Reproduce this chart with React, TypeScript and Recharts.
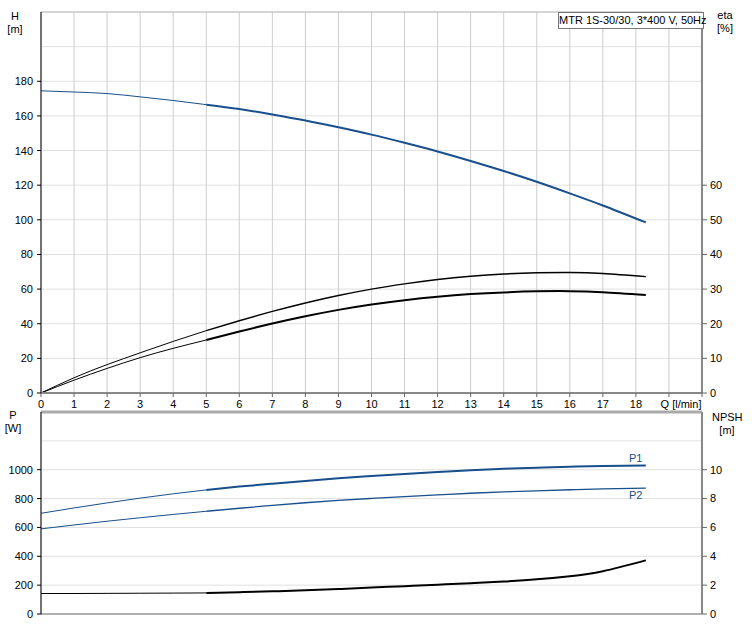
import React from "react";
import {
  LineChart,
  Line,
  XAxis,
  YAxis,
  CartesianGrid,
  ReferenceLine,
} from "recharts";

// flow points: thin part of the curves (0..5) and thick part (5..18.3)
const qThin = [0, 1, 2, 3, 4, 5];
const qThick = [5, 6, 7, 8, 9, 10, 11, 12, 13, 14, 15, 16, 17, 18.3];

const hThin = [174.5, 173.8, 172.9, 171.0, 168.9, 166.5];
const hThick = [166.5, 164.0, 160.8, 157.3, 153.4, 149.2, 144.5, 139.5, 134.0, 128.2, 122.0, 115.3, 108.3, 98.5];

const etaAThin = [0, 4.4, 8.2, 11.6, 14.9, 18.0];
const etaAThick = [18.0, 20.85, 23.55, 26.0, 28.15, 30.0, 31.5, 32.75, 33.7, 34.35, 34.7, 34.8, 34.5, 33.6];
const etaBThin = [0, 3.7, 7.1, 10.2, 12.9, 15.3];
const etaBThick = [15.3, 17.75, 20.05, 22.15, 24.0, 25.55, 26.8, 27.8, 28.55, 29.05, 29.35, 29.4, 29.1, 28.3];

const p1Thin = [698, 735, 770, 803, 833, 860];
const p1Thick = [860, 883, 903, 922, 940, 956, 971, 984, 996, 1006, 1014, 1021, 1026, 1030];
const p2Thin = [590, 617, 643, 667, 690, 712];
const p2Thick = [712, 733, 753, 771, 787, 801, 814, 826, 837, 846, 854, 861, 867, 873];

const npshThin = [1.42, 1.42, 1.43, 1.44, 1.45, 1.46];
const npshThick = [1.46, 1.51, 1.57, 1.64, 1.73, 1.83, 1.93, 2.03, 2.13, 2.25, 2.4, 2.62, 2.97, 3.72];

const qTicks = [0, 1, 2, 3, 4, 5, 6, 7, 8, 9, 10, 11, 12, 13, 14, 15, 16, 17, 18, 19, 20];
const hTicks = [0, 20, 40, 60, 80, 100, 120, 140, 160, 180, 200, 220];
const etaTicks = [0, 10, 20, 30, 40, 50, 60];
const pTicks = [0, 200, 400, 600, 800, 1000, 1200, 1400];
const npshTicks = [0, 2, 4, 6, 8, 10];

const BLUE = "#184f8c";
const FONT = "'Liberation Sans', Arial, sans-serif";

const toData = (qs: number[], vs: number[]) => qs.map((q, i) => ({ q, v: vs[i] }));

const leftTick = (maxLabel: number) => (props: any) => {
  const { x, y, payload } = props;
  if (payload.value > maxLabel) return <g />;
  return (
    <g>
      <line x1={x + 4} x2={x + 8} y1={y} y2={y} stroke="#000" />
      <text x={x} y={y} dy={4} textAnchor="end" fontSize={11} fill="#000" fontFamily={FONT}>
        {payload.value}
      </text>
    </g>
  );
};

const label = (text: string, left: number, top: number, w: number, color = "#000", align: any = "center") => (
  <div
    style={{
      position: "absolute",
      left,
      top,
      width: w,
      textAlign: align,
      fontSize: 11,
      lineHeight: "13px",
      fontFamily: FONT,
      color,
      whiteSpace: "nowrap",
    }}
  >
    {text}
  </div>
);

const line = (data: any[], yId: string, color: string, w: number, key: string) => (
  <Line
    key={key}
    data={data}
    dataKey="v"
    yAxisId={yId}
    type="natural"
    stroke={color}
    strokeWidth={w}
    dot={false}
    activeDot={false}
    isAnimationActive={false}
  />
);

export default function App() {
  return (
    <div style={{ position: "absolute", left: 0, top: 0, width: 752, height: 624, background: "#fff" }}>
      <div style={{ position: "absolute", left: 0, top: 0 }}>
        <LineChart width={752} height={412} margin={{ top: 12, right: 0, left: 0, bottom: 0 }}>
          <CartesianGrid yAxisId="h" horizontal={true} vertical={false} stroke="#e0e0e0" />
          <CartesianGrid yAxisId="h" horizontal={false} vertical={true} stroke="#cdcdcd" />
          <XAxis
            type="number"
            dataKey="q"
            domain={[0, 20]}
            ticks={qTicks}
            interval={0}
            height={19}
            tickSize={4}
            tickMargin={3}
            axisLine={{ stroke: "#888", strokeWidth: 2 }}
            tickLine={{ stroke: "#666" }}
            tick={{ fontSize: 11, fill: "#000", fontFamily: FONT }}
            tickFormatter={(v: number) => (v > 18 ? "" : String(v))}
          />
          <YAxis
            yAxisId="h"
            orientation="left"
            domain={[0, 220]}
            ticks={hTicks}
            interval={0}
            width={41}
            tickSize={4}
            tickMargin={4}
            axisLine={{ stroke: "#000" }}
            tickLine={false}
            tick={leftTick(180)}
          />
          <YAxis
            yAxisId="eta"
            orientation="right"
            domain={[0, 110]}
            ticks={etaTicks}
            interval={0}
            width={50}
            tickSize={5}
            tickMargin={3}
            axisLine={{ stroke: "#888", strokeWidth: 2 }}
            tickLine={{ stroke: "#666" }}
            tick={{ fontSize: 11, fill: "#000", fontFamily: FONT }}
          />
          <ReferenceLine yAxisId="h" y={220} stroke="#bbb" />
          {line(toData(qThin, hThin), "h", BLUE, 1, "h1")}
          {line(toData(qThick, hThick), "h", BLUE, 2, "h2")}
          {line(toData(qThin, etaAThin), "eta", "#000", 1, "ea1")}
          {line(toData(qThick, etaAThick), "eta", "#000", 1.4, "ea2")}
          {line(toData(qThin, etaBThin), "eta", "#000", 1, "eb1")}
          {line(toData(qThick, etaBThick), "eta", "#000", 2, "eb2")}
        </LineChart>
      </div>
      <div style={{ position: "absolute", left: 0, top: 400 }}>
        <LineChart width={752} height={224} margin={{ top: 12, right: 0, left: 0, bottom: 0 }}>
          <CartesianGrid yAxisId="p" horizontal={true} vertical={false} stroke="#e0e0e0" />
          <CartesianGrid yAxisId="p" horizontal={false} vertical={true} stroke="#cdcdcd" />
          <XAxis
            type="number"
            dataKey="q"
            domain={[0, 20]}
            ticks={qTicks}
            interval={0}
            height={10}
            tick={false}
            tickLine={false}
            axisLine={{ stroke: "#b0b0b0", strokeWidth: 2 }}
          />
          <YAxis
            yAxisId="p"
            orientation="left"
            domain={[0, 1400]}
            ticks={pTicks}
            interval={0}
            width={41}
            tickSize={4}
            tickMargin={4}
            axisLine={{ stroke: "#000" }}
            tickLine={false}
            tick={leftTick(1000)}
          />
          <YAxis
            yAxisId="npsh"
            orientation="right"
            domain={[0, 14]}
            ticks={npshTicks}
            interval={0}
            width={50}
            tickSize={5}
            tickMargin={3}
            axisLine={{ stroke: "#888", strokeWidth: 2 }}
            tickLine={{ stroke: "#666" }}
            tick={{ fontSize: 11, fill: "#000", fontFamily: FONT }}
          />
          <ReferenceLine yAxisId="p" y={1400} stroke="#aaa" strokeWidth={3} />
          {line(toData(qThin, p1Thin), "p", BLUE, 1, "p11")}
          {line(toData(qThick, p1Thick), "p", BLUE, 2, "p12")}
          {line(toData(qThin, p2Thin), "p", BLUE, 1, "p21")}
          {line(toData(qThick, p2Thick), "p", BLUE, 1.3, "p22")}
          {line(toData(qThin, npshThin), "npsh", "#000", 1, "n1")}
          {line(toData(qThick, npshThick), "npsh", "#000", 2, "n2")}
        </LineChart>
      </div>

      {label("H", 5, 10, 20)}
      {label("[m]", 5, 23, 20)}
      {label("eta", 714, 9, 22)}
      {label("[%]", 714, 22, 22)}
      {label("P", 3, 409, 20)}
      {label("[W]", 3, 422, 20)}
      {label("NPSH", 712, 411, 30)}
      {label("[m]", 712, 424, 30)}
      {label("Q [l/min]", 660, 398, 42)}
      {label("P1", 629, 452, 16, BLUE, "left")}
      {label("P2", 629, 489, 16, BLUE, "left")}
      <div
        style={{
          position: "absolute",
          left: 558,
          top: 12,
          width: 144,
          height: 15,
          border: "1px solid #777",
          background: "#fff",
          fontSize: 11,
          lineHeight: "15px",
          fontFamily: FONT,
          textAlign: "center",
          whiteSpace: "nowrap",
        }}
      >
        MTR 1S-30/30, 3*400 V, 50Hz
      </div>
    </div>
  );
}
